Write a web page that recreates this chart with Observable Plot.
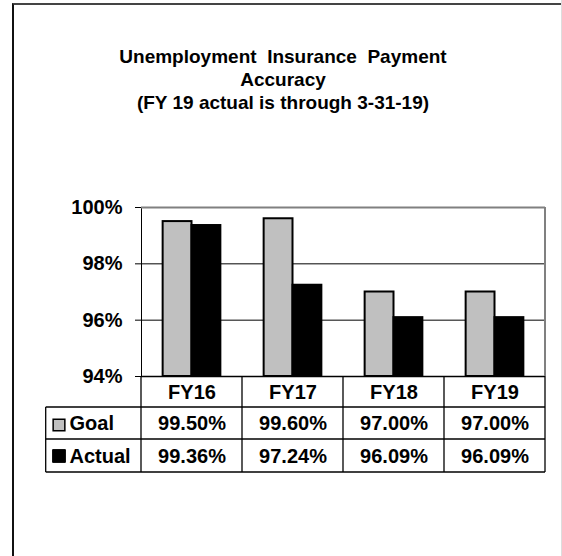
<!DOCTYPE html>
<html><head><meta charset="utf-8">
<script src="https://cdn.jsdelivr.net/npm/d3@7"></script>
<script src="https://cdn.jsdelivr.net/npm/@observablehq/plot@0.6"></script>
<style>
html,body{margin:0;padding:0;background:#fff;}
#wrap{position:relative;width:562px;height:556px;overflow:hidden;font-family:"Liberation Sans",Arial,sans-serif;}
#frame{position:absolute;left:12px;top:3px;width:600px;height:600px;border-top:2px solid #444;border-left:2px solid #111;}
#edge{position:absolute;left:561px;top:0;width:1px;height:556px;background:#ddd;}
#title{position:absolute;left:0;top:45px;width:566px;text-align:center;font-size:19px;font-weight:bold;line-height:23px;white-space:pre;color:#000;}
#chart{position:absolute;left:0;top:0;}
</style></head><body>
<div id="wrap"><div id="frame"></div><div id="edge"></div><div id="chart"></div><div id="title"></div></div>
<script>
const titleLines = ["Unemployment  Insurance  Payment", "Accuracy", "(FY 19 actual is through 3-31-19)"];
const years = ["FY16", "FY17", "FY18", "FY19"];
const seriesNames = ["Goal", "Actual"];
const goalValues = [99.50, 99.60, 97.00, 97.00];
const actualValues = [99.36, 97.24, 96.09, 96.09];
const yDomain = [94, 100];
const yTicks = [94, 96, 98, 100];
const gridValues = [96, 98];
const seriesColors = ["#c0c0c0", "#000000"];

document.getElementById("title").textContent = titleLines.join("\n");

const rows = years.flatMap((year, i) => [
  {year, series: seriesNames[0], value: goalValues[i]},
  {year, series: seriesNames[1], value: actualValues[i]}
]);

const W = 562, H = 556, mL = 141, mR = 17, mT = 207, mB = 180;
const rowH = [31, 32, 33];
const tableLeft = 45.7;
const fmt = v => v.toFixed(2) + "%";
const rowMid = [rowH[0] / 2, rowH[0] + rowH[1] / 2, rowH[0] + rowH[1] + rowH[2] / 2];

const chart = Plot.plot({
  width: W, height: H,
  marginLeft: mL, marginRight: mR, marginTop: mT, marginBottom: mB,
  style: {background: "transparent", fontFamily: "Liberation Sans, Arial, sans-serif", fontSize: "20px", fontWeight: "bold", color: "#000"},
  fx: {domain: years, padding: 0, round: false, axis: null, label: null},
  x: {domain: seriesNames, paddingInner: 0, paddingOuter: 0.75, round: false, axis: null, label: null},
  y: {domain: yDomain, ticks: yTicks, tickFormat: d => d + "%", tickSize: 6, tickPadding: 13, line: true, label: null},
  color: {domain: seriesNames, range: seriesColors},
  marks: [
    Plot.ruleY(gridValues, {stroke: "#000", strokeWidth: 1}),
    Plot.ruleY([yDomain[1]], {stroke: "#808080", strokeWidth: 2}),
    Plot.barY(rows, {fx: "year", x: "series", y1: yDomain[0], y2: "value", fill: "series", stroke: "#000", strokeWidth: 2}),
    Plot.ruleY([yDomain[0]], {stroke: "#000", strokeWidth: 1.3}),
    Plot.text(years, {fx: d => d, text: d => d, frameAnchor: "bottom", lineAnchor: "middle", dy: rowMid[0] + 1, fill: "#000"}),
    Plot.text(rows.filter(d => d.series === seriesNames[0]), {fx: "year", text: d => fmt(d.value), frameAnchor: "bottom", lineAnchor: "middle", dy: rowMid[1] + 0.5, fill: "#000"}),
    Plot.text(rows.filter(d => d.series === seriesNames[1]), {fx: "year", text: d => fmt(d.value), frameAnchor: "bottom", lineAnchor: "middle", dy: rowMid[2] + 0.5, fill: "#000"}),
    Plot.text([seriesNames[0]], {fx: () => years[0], text: d => d, frameAnchor: "bottom-left", lineAnchor: "middle", textAnchor: "start", dx: -72, dy: rowMid[1] + 0.5, fill: "#000"}),
    Plot.text([seriesNames[1]], {fx: () => years[0], text: d => d, frameAnchor: "bottom-left", lineAnchor: "middle", textAnchor: "start", dx: -72, dy: rowMid[2] + 0.5, fill: "#000"}),
    Plot.dot([seriesNames[0]], {fx: () => years[0], frameAnchor: "bottom-left", dx: -82.5, dy: rowMid[1] + 1.5, symbol: "square", r: 6.6, fill: seriesColors[0], stroke: "#000", strokeWidth: 1.5}),
    Plot.dot([seriesNames[1]], {fx: () => years[0], frameAnchor: "bottom-left", dx: -82.5, dy: rowMid[2], symbol: "square", r: 7.2, fill: seriesColors[1], stroke: "#000", strokeWidth: 1})
  ]
});
document.getElementById("chart").appendChild(chart);

// data-table grid and plot border
const svg = d3.select(chart);
const x0 = mL, x1 = W - mR, colW = (x1 - x0) / years.length;
const yb = H - mB;
const edges = [yb, yb + rowH[0], yb + rowH[0] + rowH[1], yb + rowH[0] + rowH[1] + rowH[2]];
const g = svg.append("g").attr("stroke", "#000").attr("stroke-width", 1.3).attr("fill", "none");
for (let i = 0; i <= years.length; i++) {
  g.append("line").attr("x1", x0 + i * colW).attr("x2", x0 + i * colW).attr("y1", edges[0]).attr("y2", edges[3]);
}
g.append("line").attr("x1", tableLeft).attr("x2", tableLeft).attr("y1", edges[1]).attr("y2", edges[3]);
for (let j = 1; j < edges.length; j++) {
  g.append("line").attr("x1", tableLeft).attr("x2", x1).attr("y1", edges[j]).attr("y2", edges[j]);
}
svg.append("line").attr("x1", x1).attr("x2", x1).attr("y1", mT).attr("y2", yb)
  .attr("stroke", "#808080").attr("stroke-width", 2);
</script>
</body></html>
